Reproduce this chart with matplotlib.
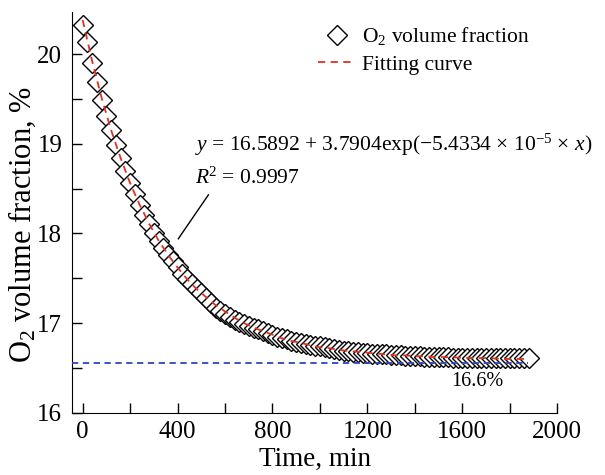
import numpy as np
import matplotlib.pyplot as plt

plt.rcParams['font.family'] = ['Liberation Serif', 'DejaVu Serif']
plt.rcParams['mathtext.fontset'] = 'custom'
plt.rcParams['mathtext.rm'] = 'Liberation Serif'
plt.rcParams['mathtext.it'] = 'Liberation Serif:italic'

# time, min (one reading every 20 min)
time_min = np.arange(0, 1900, 20)
# O2 volume fraction, %
o2 = [20.32, 20.13, 19.90, 19.69, 19.49, 19.31, 19.15, 18.99, 18.84, 18.70,
      18.56, 18.44, 18.32, 18.21, 18.11, 18.01, 17.92, 17.84, 17.76, 17.69,
      17.62, 17.55, 17.49, 17.44, 17.38, 17.33, 17.28, 17.22, 17.17, 17.13,
      17.10, 17.07, 17.04, 17.01, 16.99, 16.97, 16.95, 16.93, 16.91, 16.89,
      16.87, 16.85, 16.83, 16.82, 16.80, 16.79, 16.78, 16.77, 16.76, 16.75,
      16.74, 16.73, 16.72, 16.71, 16.70, 16.69, 16.69, 16.68, 16.68, 16.67,
      16.67, 16.66, 16.66, 16.65, 16.65, 16.64, 16.64, 16.64, 16.63, 16.63,
      16.63, 16.63, 16.62, 16.62, 16.62, 16.62, 16.62, 16.62, 16.61, 16.61,
      16.61, 16.61, 16.61, 16.61, 16.61, 16.61, 16.61, 16.61, 16.61, 16.61,
      16.61, 16.61, 16.61, 16.61, 16.61]

# fitting curve, sampled every 40 min
fit_t = np.arange(0, 1900, 40)
fit_y = [20.38, 19.92, 19.51, 19.15, 18.84, 18.56, 18.32, 18.11, 17.92, 17.76,
         17.62, 17.49, 17.38, 17.29, 17.20, 17.13, 17.06, 17.00, 16.95, 16.91,
         16.87, 16.83, 16.80, 16.78, 16.75, 16.73, 16.72, 16.70, 16.69, 16.68,
         16.67, 16.66, 16.65, 16.64, 16.64, 16.63, 16.63, 16.62, 16.62, 16.62,
         16.61, 16.61, 16.61, 16.61, 16.60, 16.60, 16.60, 16.60]

plateau = 16.56

fig = plt.figure(figsize=(6.05, 4.75), dpi=100)
ax = fig.add_axes([0.119, 0.131, 0.802, 0.844])

ax.plot(time_min, o2, ls='none', marker='D', ms=10.5, mfc='white', mec='black',
        mew=1.0, label='O$_2$ volume fraction', zorder=2)
ax.plot(fit_t, fit_y, color='#e03020', ls=(0, (4, 3)), lw=1.3,
        label='Fitting curve', zorder=3)
ax.plot([-45, 1875], [plateau, plateau], color='#3344bb', ls=(0, (3.5, 2.5)),
        lw=1.3, zorder=4)
ax.text(1665, 16.35, '16.6%', fontsize=14.5, ha='center', va='center')

ax.text(472, 18.99, r'$y$ = 16.5892 + 3.7904exp($-$5.4334 $\times$ 10$^{-5}$ $\times$ $x$)',
        fontsize=15.5, va='center')
ax.text(472, 18.62, r'$R$$^2$ = 0.9997', fontsize=15.5, va='center')
ax.plot([403, 530], [17.94, 18.43], color='black', lw=1.0)

ax.set_xlim(-45, 2000)
ax.set_ylim(16, 20.47)
ax.set_xticks([0, 400, 800, 1200, 1600, 2000])
ax.set_xticks(np.arange(0, 2001, 200), minor=True)
ax.set_yticks([16, 17, 18, 19, 20])
ax.set_yticks(np.arange(16, 20.5, 0.5), minor=True)
ax.tick_params(which='both', direction='in', labelsize=18, width=1.0)
ax.tick_params(which='major', length=7)
ax.tick_params(which='minor', length=7)
ax.tick_params(axis='x', pad=6)
ax.tick_params(axis='y', pad=7)
ax.spines['top'].set_visible(False)
ax.spines['right'].set_visible(False)

ax.set_xlabel('Time, min', fontsize=19.5, labelpad=3)
ax.set_ylabel('O$_2$ volume fraction, %', fontsize=22)
ax.yaxis.set_label_coords(-0.07, 0.47)

ax.legend(loc='upper left', bbox_to_anchor=(0.468, 1.015), frameon=False,
          fontsize=15.5, numpoints=1, handlelength=1.75, handletextpad=0.25,
          labelspacing=0.35)

fig.savefig('out.png')
